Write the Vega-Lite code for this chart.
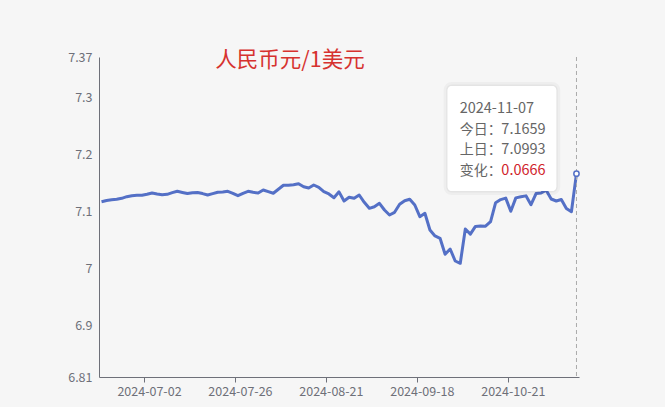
{
  "$schema": "https://vega.github.io/schema/vega-lite/v6.json",
  "width": 480,
  "height": 320,
  "autosize": {"type": "none"},
  "padding": {"left": 99, "top": 57, "right": 86, "bottom": 30},
  "background": "#f6f6f6",
  "config": {"view": {"stroke": null}, "font": "Noto Sans CJK SC"},
  "title": {"text": "人民币元/1美元", "color": "#d6322f", "fontSize": 21.5, "fontWeight": "normal", "font": "Noto Sans CJK SC", "anchor": "middle", "dx": -49, "offset": -20},
  "datasets": {
    "rate": [
      {"date": "2024-06-19", "rate": 7.1168}, {"date": "2024-06-20", "rate": 7.1190}, {"date": "2024-06-21", "rate": 7.1203},
      {"date": "2024-06-24", "rate": 7.1210}, {"date": "2024-06-25", "rate": 7.1227}, {"date": "2024-06-26", "rate": 7.1256},
      {"date": "2024-06-27", "rate": 7.1273}, {"date": "2024-06-28", "rate": 7.1280}, {"date": "2024-07-01", "rate": 7.1280},
      {"date": "2024-07-02", "rate": 7.1297}, {"date": "2024-07-03", "rate": 7.1320}, {"date": "2024-07-04", "rate": 7.1303},
      {"date": "2024-07-05", "rate": 7.1290}, {"date": "2024-07-08", "rate": 7.1297}, {"date": "2024-07-09", "rate": 7.1326},
      {"date": "2024-07-10", "rate": 7.1350}, {"date": "2024-07-11", "rate": 7.1330}, {"date": "2024-07-12", "rate": 7.1310},
      {"date": "2024-07-15", "rate": 7.1326}, {"date": "2024-07-16", "rate": 7.1330}, {"date": "2024-07-17", "rate": 7.1310},
      {"date": "2024-07-18", "rate": 7.1285}, {"date": "2024-07-19", "rate": 7.1310}, {"date": "2024-07-22", "rate": 7.1334},
      {"date": "2024-07-23", "rate": 7.1338}, {"date": "2024-07-24", "rate": 7.1350}, {"date": "2024-07-25", "rate": 7.1315},
      {"date": "2024-07-26", "rate": 7.1273}, {"date": "2024-07-29", "rate": 7.1315}, {"date": "2024-07-30", "rate": 7.1350},
      {"date": "2024-07-31", "rate": 7.1332}, {"date": "2024-08-01", "rate": 7.1320}, {"date": "2024-08-02", "rate": 7.1373},
      {"date": "2024-08-05", "rate": 7.1343}, {"date": "2024-08-06", "rate": 7.1315}, {"date": "2024-08-07", "rate": 7.1385},
      {"date": "2024-08-08", "rate": 7.1455}, {"date": "2024-08-09", "rate": 7.1455}, {"date": "2024-08-12", "rate": 7.1466},
      {"date": "2024-08-13", "rate": 7.1483}, {"date": "2024-08-14", "rate": 7.1430}, {"date": "2024-08-15", "rate": 7.1408},
      {"date": "2024-08-16", "rate": 7.1460}, {"date": "2024-08-19", "rate": 7.1420}, {"date": "2024-08-20", "rate": 7.1343},
      {"date": "2024-08-21", "rate": 7.1303}, {"date": "2024-08-22", "rate": 7.1238}, {"date": "2024-08-23", "rate": 7.1340},
      {"date": "2024-08-26", "rate": 7.1180}, {"date": "2024-08-27", "rate": 7.1245}, {"date": "2024-08-28", "rate": 7.1227},
      {"date": "2024-08-29", "rate": 7.1285}, {"date": "2024-08-30", "rate": 7.1157}, {"date": "2024-09-02", "rate": 7.1052},
      {"date": "2024-09-03", "rate": 7.1080}, {"date": "2024-09-04", "rate": 7.1140}, {"date": "2024-09-05", "rate": 7.1023},
      {"date": "2024-09-06", "rate": 7.0935}, {"date": "2024-09-09", "rate": 7.0982}, {"date": "2024-09-10", "rate": 7.1122},
      {"date": "2024-09-11", "rate": 7.1185}, {"date": "2024-09-12", "rate": 7.1210}, {"date": "2024-09-13", "rate": 7.1110},
      {"date": "2024-09-18", "rate": 7.0906}, {"date": "2024-09-19", "rate": 7.0965}, {"date": "2024-09-20", "rate": 7.0673},
      {"date": "2024-09-23", "rate": 7.0568}, {"date": "2024-09-24", "rate": 7.0527}, {"date": "2024-09-25", "rate": 7.0247},
      {"date": "2024-09-26", "rate": 7.0340}, {"date": "2024-09-27", "rate": 7.0130}, {"date": "2024-09-30", "rate": 7.0090},
      {"date": "2024-10-08", "rate": 7.0690}, {"date": "2024-10-09", "rate": 7.0600}, {"date": "2024-10-10", "rate": 7.0735},
      {"date": "2024-10-11", "rate": 7.0743}, {"date": "2024-10-14", "rate": 7.0740}, {"date": "2024-10-15", "rate": 7.0820},
      {"date": "2024-10-16", "rate": 7.1150}, {"date": "2024-10-17", "rate": 7.1205}, {"date": "2024-10-18", "rate": 7.1230},
      {"date": "2024-10-21", "rate": 7.1000}, {"date": "2024-10-22", "rate": 7.1235}, {"date": "2024-10-23", "rate": 7.1255},
      {"date": "2024-10-24", "rate": 7.1270}, {"date": "2024-10-25", "rate": 7.1115}, {"date": "2024-10-28", "rate": 7.1310},
      {"date": "2024-10-29", "rate": 7.1320}, {"date": "2024-10-30", "rate": 7.1370}, {"date": "2024-10-31", "rate": 7.1215},
      {"date": "2024-11-01", "rate": 7.1180}, {"date": "2024-11-04", "rate": 7.1206}, {"date": "2024-11-05", "rate": 7.1050},
      {"date": "2024-11-06", "rate": 7.0993}, {"date": "2024-11-07", "rate": 7.1659}
    ],
    "tip": [{"date": "2024-11-07", "today": 7.1659, "prev": 7.0993, "change": 0.0666}],
    "box": [{"start": "2024-09-26", "end": "2024-11-01", "top": 7.3193, "bottom": 7.1355}]
  },
  "encoding": {
    "x": {
      "field": "date", "type": "ordinal", "bandPosition": 0.5,
      "scale": {"type": "band", "paddingInner": 0, "paddingOuter": 0},
      "axis": {
        "values": ["2024-07-02", "2024-07-26", "2024-08-21", "2024-09-18", "2024-10-21"],
        "bandPosition": 0, "labelOffset": 2.5, "labelAngle": 0, "tickSize": 5, "labelPadding": 3,
        "domainColor": "#6e7079", "tickColor": "#6e7079", "labelColor": "#6e7079", "labelFontSize": 12.5,
        "labelFont": "Noto Sans CJK SC", "title": null, "grid": false
      }
    }
  },
  "layer": [
    {
      "data": {"name": "rate"},
      "mark": {"type": "line", "color": "#5470c6", "strokeWidth": 3, "strokeJoin": "round"},
      "encoding": {
        "y": {
          "field": "rate", "type": "quantitative",
          "scale": {"domain": [6.81, 7.37], "zero": false, "nice": false},
          "axis": {
            "values": [6.81, 6.9, 7, 7.1, 7.2, 7.3, 7.37], "format": ".2~f", "grid": false, "ticks": false,
            "domainColor": "#6e7079", "labelColor": "#6e7079", "labelFontSize": 12.5, "labelPadding": 7,
            "labelFont": "Noto Sans CJK SC", "title": null
          }
        }
      }
    },
    {
      "data": {"name": "tip"},
      "mark": {"type": "rule", "color": "#aaaaaa", "strokeDash": [4, 3], "strokeWidth": 1},
      "encoding": {}
    },
    {
      "data": {"name": "tip"},
      "mark": {"type": "point", "filled": true, "fill": "#ffffff", "stroke": "#5470c6", "strokeWidth": 1.5, "size": 28, "opacity": 1},
      "encoding": {"y": {"field": "today", "type": "quantitative"}}
    },
    {
      "data": {"name": "box"},
      "mark": {"type": "rect", "fill": "#ffffff", "stroke": "#000000", "strokeOpacity": 0.03, "strokeWidth": 8, "cornerRadius": 4},
      "encoding": {
        "x": {"field": "start", "type": "ordinal", "bandPosition": 0},
        "x2": {"field": "end"},
        "y": {"field": "top", "type": "quantitative"},
        "y2": {"field": "bottom"}
      }
    },
    {
      "data": {"name": "box"},
      "mark": {"type": "rect", "fill": "#ffffff", "stroke": "#000000", "strokeOpacity": 0.04, "strokeWidth": 3, "cornerRadius": 4},
      "encoding": {
        "x": {"field": "start", "type": "ordinal", "bandPosition": 0},
        "x2": {"field": "end"},
        "y": {"field": "top", "type": "quantitative"},
        "y2": {"field": "bottom"}
      }
    },
    {
      "data": {"name": "box"},
      "mark": {"type": "rect", "fill": "#ffffff", "cornerRadius": 4},
      "encoding": {
        "x": {"field": "start", "type": "ordinal", "bandPosition": 0},
        "x2": {"field": "end"},
        "y": {"field": "top", "type": "quantitative"},
        "y2": {"field": "bottom"}
      }
    },
    {
      "data": {"name": "tip"},
      "mark": {"type": "text", "align": "left", "baseline": "middle", "fontSize": 14.5, "color": "#666666", "dx": -116.8, "dy": -64.5, "font": "Noto Sans CJK SC"},
      "encoding": {"y": {"field": "today", "type": "quantitative"}, "text": {"field": "date"}}
    },
    {
      "data": {"name": "tip"},
      "mark": {"type": "text", "align": "left", "baseline": "middle", "fontSize": 14, "color": "#666666", "dx": -116.8, "dy": -43.5, "text": "今日：", "font": "Noto Sans CJK SC"},
      "encoding": {"y": {"field": "today", "type": "quantitative"}}
    },
    {
      "data": {"name": "tip"},
      "mark": {"type": "text", "align": "left", "baseline": "middle", "fontSize": 14.5, "color": "#666666", "dx": -75.1, "dy": -43.5, "font": "Noto Sans CJK SC"},
      "encoding": {"y": {"field": "today", "type": "quantitative"}, "text": {"field": "today", "type": "quantitative", "format": ".4f"}}
    },
    {
      "data": {"name": "tip"},
      "mark": {"type": "text", "align": "left", "baseline": "middle", "fontSize": 14, "color": "#666666", "dx": -116.8, "dy": -23.5, "text": "上日：", "font": "Noto Sans CJK SC"},
      "encoding": {"y": {"field": "today", "type": "quantitative"}}
    },
    {
      "data": {"name": "tip"},
      "mark": {"type": "text", "align": "left", "baseline": "middle", "fontSize": 14.5, "color": "#666666", "dx": -75.1, "dy": -23.5, "font": "Noto Sans CJK SC"},
      "encoding": {"y": {"field": "today", "type": "quantitative"}, "text": {"field": "prev", "type": "quantitative", "format": ".4f"}}
    },
    {
      "data": {"name": "tip"},
      "mark": {"type": "text", "align": "left", "baseline": "middle", "fontSize": 14, "color": "#666666", "dx": -116.8, "dy": -3, "text": "变化：", "font": "Noto Sans CJK SC"},
      "encoding": {"y": {"field": "today", "type": "quantitative"}}
    },
    {
      "data": {"name": "tip"},
      "mark": {"type": "text", "align": "left", "baseline": "middle", "fontSize": 14.5, "color": "#d0232b", "dx": -75.1, "dy": -3, "font": "Noto Sans CJK SC"},
      "encoding": {"y": {"field": "today", "type": "quantitative"}, "text": {"field": "change", "type": "quantitative", "format": ".4f"}}
    }
  ]
}
